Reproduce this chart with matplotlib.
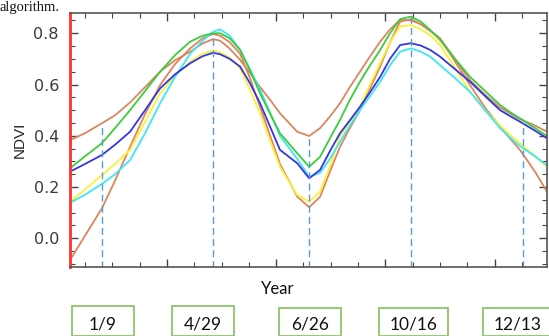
"""
NDVI seasonal curves with key dates marked below the axis.

Saves: out.png
"""

import matplotlib
matplotlib.use("Agg")
import matplotlib.pyplot as plt
from matplotlib.patches import Rectangle
from matplotlib.ticker import MultipleLocator

# -----------------------------------------------------------------------
# Data
# -----------------------------------------------------------------------
t = [-0.55, 0.0, 0.62, 1.1, 1.65, 2.2, 2.75, 3.3, 3.85, 4.3, 4.69, 4.95,
     5.3, 5.68, 6.04, 6.41, 6.78, 7.14, 7.77, 8.21, 8.61, 8.97, 9.34, 9.7,
     10.07, 10.44, 10.81, 11.17, 11.54, 11.94, 12.3, 12.64, 13.0, 13.55,
     14.1, 14.65, 15.2, 15.6, 15.93, 16.48, 16.92]

brown_a = [0.383, 0.410, 0.449, 0.480, 0.530, 0.590, 0.650, 0.695, 0.728,
           0.760, 0.777, 0.771, 0.740, 0.696, 0.645, 0.590, 0.540, 0.488,
           0.416, 0.399, 0.430, 0.475, 0.527, 0.590, 0.650, 0.710, 0.767,
           0.815, 0.852, 0.850, 0.835, 0.810, 0.780, 0.700, 0.617, 0.560,
           0.510, 0.485, 0.465, 0.440, 0.416]
green = [0.273, 0.320, 0.371, 0.430, 0.500, 0.575, 0.650, 0.715, 0.767,
         0.790, 0.800, 0.800, 0.780, 0.735, 0.655, 0.566, 0.485, 0.410,
         0.332, 0.279, 0.318, 0.390, 0.462, 0.540, 0.611, 0.675, 0.735,
         0.800, 0.855, 0.865, 0.845, 0.813, 0.774, 0.700, 0.630, 0.575,
         0.520, 0.490, 0.468, 0.430, 0.399]
blue = [0.260, 0.290, 0.325, 0.365, 0.416, 0.500, 0.585, 0.640, 0.683,
        0.710, 0.724, 0.718, 0.700, 0.670, 0.605, 0.527, 0.435, 0.345,
        0.293, 0.234, 0.267, 0.340, 0.410, 0.460, 0.513, 0.570, 0.630,
        0.700, 0.754, 0.761, 0.752, 0.735, 0.709, 0.660, 0.611, 0.555,
        0.500, 0.475, 0.455, 0.420, 0.390]
yellow = [0.143, 0.190, 0.247, 0.290, 0.345, 0.455, 0.566, 0.635, 0.689,
          0.720, 0.732, 0.725, 0.705, 0.663, 0.580, 0.488, 0.380, 0.279,
          0.169, 0.143, 0.182, 0.280, 0.400, 0.455, 0.513, 0.600, 0.683,
          0.765, 0.826, 0.832, 0.815, 0.793, 0.754, 0.665, 0.572, 0.500,
          0.440, 0.400, 0.371, 0.320, 0.279]
cyan = [0.139, 0.170, 0.212, 0.250, 0.305, 0.410, 0.527, 0.630, 0.720,
        0.770, 0.806, 0.815, 0.790, 0.735, 0.660, 0.580, 0.490, 0.400,
        0.310, 0.240, 0.255, 0.310, 0.377, 0.440, 0.500, 0.555, 0.611,
        0.675, 0.728, 0.741, 0.728, 0.709, 0.676, 0.625, 0.572, 0.500,
        0.430, 0.390, 0.360, 0.320, 0.285]
brown_b = [-0.085, 0.010, 0.117, 0.225, 0.357, 0.485, 0.598, 0.680, 0.741,
           0.780, 0.797, 0.790, 0.765, 0.720, 0.625, 0.513, 0.400, 0.290,
           0.163, 0.121, 0.162, 0.260, 0.357, 0.430, 0.500, 0.585, 0.670,
           0.765, 0.845, 0.855, 0.835, 0.810, 0.780, 0.690, 0.598, 0.510,
           0.436, 0.385, 0.345, 0.260, 0.182]

date_labels = ["1/9", "4/29", "6/26", "10/16", "12/13"]
date_t = [0.62, 4.70, 8.22, 11.94, 16.04]
date_top = [0.45, 0.80, 0.40, 0.865, 0.45]

# -----------------------------------------------------------------------
# Plot
# -----------------------------------------------------------------------
W, H = 549, 336
fig = plt.figure(figsize=(W / 100, H / 100), dpi=100)
ax = fig.add_axes([70 / W, 1 - 267 / H, 477 / W, 254 / H])

for vals, color in [
    (brown_a, "#d9875f"),
    (brown_b, "#e0845c"),
    (yellow, "#f8f236"),
    (cyan, "#3fe6f5"),
    (blue, "#3535e6"),
    (green, "#3ccc3c"),
]:
    ax.plot(t, vals, color=color, linewidth=1.3)

for x, top in zip(date_t, date_top):
    ax.plot([x, x], [-0.2, top], color="#5b9bd5", linewidth=1.0,
            linestyle=(0, (5, 3)))

ax.set_xlim(-0.55, 16.92)
ax.set_ylim(-0.112, 0.879)
ax.xaxis.set_minor_locator(MultipleLocator(1))
ax.set_xticks([3, 7, 11, 15])
ax.set_xticklabels([])
ax.yaxis.set_minor_locator(MultipleLocator(0.05))
ax.set_yticks([0.0, 0.2, 0.4, 0.6, 0.8])
ax.set_yticklabels(["0.0", "0.2", "0.4", "0.6", "0.8"])

ax.tick_params(axis="both", which="both", direction="in", top=True,
               right=True, color="#444444")
ax.tick_params(axis="both", which="major", length=6, width=1.0)
ax.tick_params(axis="both", which="minor", length=3.5, width=0.8)
ax.tick_params(axis="y", labelsize=11.5, labelcolor="#3a3a3a", pad=8)

for side in ["top", "right", "bottom"]:
    ax.spines[side].set_color("#555555")
    ax.spines[side].set_linewidth(1.2)
ax.spines["left"].set_color("#ff3030")
ax.spines["left"].set_linewidth(2.0)

ax.set_ylabel("NDVI", fontsize=11, color="#222222", labelpad=5,
              family="Liberation Sans")

# Labels under the axis
fig.text(278 / W, 1 - 289 / H, "Year", ha="center", va="center",
         fontsize=12, family="Lato", color="#111111")

box_left = [72, 171.5, 279, 379, 483]
box_right = [134, 234, 341, 448, 552]
box_top = [306, 306, 308, 308, 308]
for lab, l, r, tp in zip(date_labels, box_left, box_right, box_top):
    fig.patches.append(Rectangle(
        (l / W, 0), (r - l) / W, 1 - tp / H, transform=fig.transFigure,
        facecolor="white", edgecolor="#8cc46c", linewidth=1.3))
    fig.text((l + r) / 2 / W, 1 - 324 / H, lab, ha="center", va="center",
             fontsize=12.5, family="Lato", color="#111111")

# Caption text left over above the chart
fig.text(0.0, 1 - 11 / H, "algorithm.", ha="left", va="baseline",
         fontsize=10.5, family="Liberation Serif", color="#111111")

fig.savefig("out.png", dpi=100)
plt.close(fig)
